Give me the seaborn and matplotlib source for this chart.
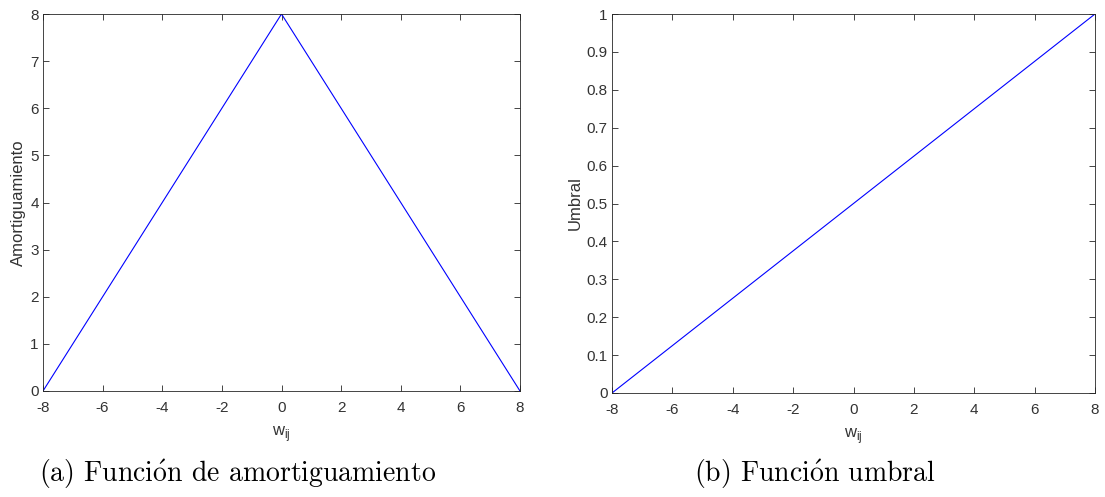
import matplotlib
matplotlib.use("Agg")
import matplotlib.pyplot as plt
import seaborn as sns
import pandas as pd

# Data
w_a = [-8, 0, 8]
amort = [0, 8, 0]
w_b = [-8, 8]
umbral = [0, 1]
xticks = [-8, -6, -4, -2, 0, 2, 4, 6, 8]
yticks_a = [0, 1, 2, 3, 4, 5, 6, 7, 8]
yticks_b = [0, 0.1, 0.2, 0.3, 0.4, 0.5, 0.6, 0.7, 0.8, 0.9, 1]
caption_a = r"(a) Funci$\acute{\rm o}$n de amortiguamiento"
caption_b = r"(b) Funci$\acute{\rm o}$n umbral"

sns.set_theme(style="white")
plt.rcParams['font.family'] = ['Liberation Sans', 'DejaVu Sans']
plt.rcParams['mathtext.fontset'] = 'custom'
plt.rcParams['mathtext.rm'] = 'Liberation Sans'

fig = plt.figure(figsize=(11.05, 4.97), dpi=100)
W, H = 1105, 497
ax1 = fig.add_axes([43 / W, 1 - 391 / H, (520 - 43) / W, (391 - 14) / H])
ax2 = fig.add_axes([612 / W, 1 - 393 / H, (1095 - 612) / W, (393 - 14) / H])

df_a = pd.DataFrame({"w": w_a, "y": amort})
df_b = pd.DataFrame({"w": w_b, "y": umbral})
sns.lineplot(data=df_a, x="w", y="y", ax=ax1, color="#0000ff", linewidth=0.8, sort=False)
sns.lineplot(data=df_b, x="w", y="y", ax=ax2, color="#0000ff", linewidth=0.8, sort=False)

labcol = "#333333"
for ax, yt, ylab in [(ax1, yticks_a, "Amortiguamiento"), (ax2, yticks_b, "Umbral")]:
    ax.set_xlim(-8, 8)
    ax.set_ylim(yt[0], yt[-1])
    ax.set_xticks(xticks)
    ax.set_xticklabels([f"{t:g}" for t in xticks])
    ax.set_yticks(yt)
    ax.set_yticklabels([f"{t:g}" for t in yt])
    ax.tick_params(direction="in", length=4, width=0.6, colors="#262626",
                   labelcolor=labcol, labelsize=11, top=True, right=True,
                   bottom=True, left=True, pad=3)
    ax.tick_params(axis="x", pad=7)
    for s in ax.spines.values():
        s.set_color("#262626")
        s.set_linewidth(0.6)
    ax.set_xlabel(r"w$_{\rm ij}$", fontsize=12, color=labcol, labelpad=6.5)
    ax.set_ylabel(ylab, fontsize=12, color=labcol, labelpad=3)

serif = ['cmr10', 'DejaVu Serif']
fig.text(238 / W, 1 - 474 / H, caption_a, ha="center", va="center", fontsize=20,
         family=serif, math_fontfamily='cm', color="black")
fig.text(815 / W, 1 - 474 / H, caption_b, ha="center", va="center", fontsize=20,
         family=serif, math_fontfamily='cm', color="black")

fig.savefig("out.png", dpi=100)
